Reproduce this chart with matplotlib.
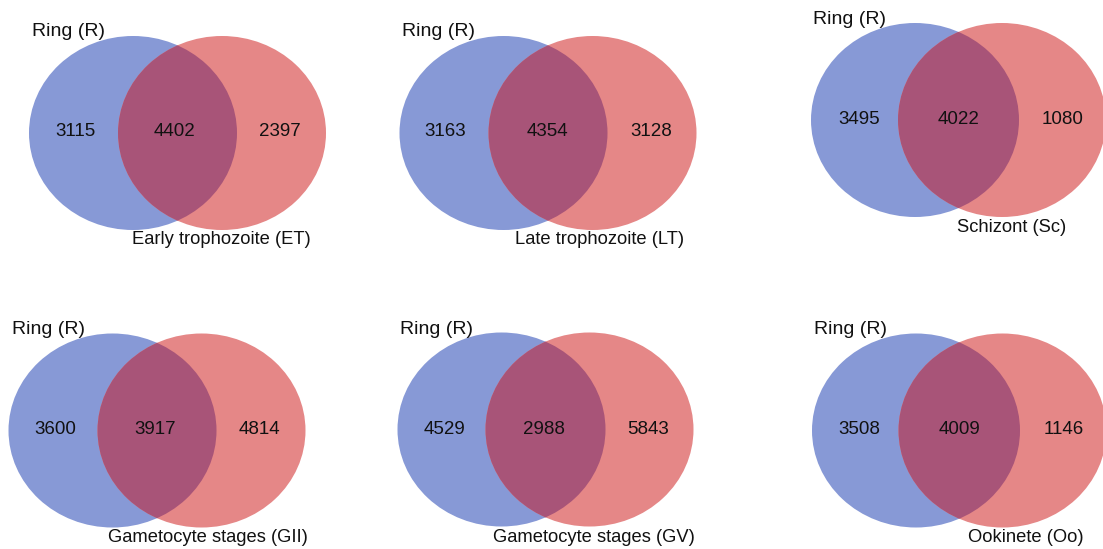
import matplotlib
matplotlib.use("Agg")
import matplotlib.pyplot as plt
from matplotlib.patches import Ellipse

plt.rcParams['font.family'] = ['Liberation Sans', 'DejaVu Sans']

# ---- data ----
set_a_label = "Ring (R)"
stage_labels = ["Early trophozoite (ET)", "Late trophozoite (LT)", "Schizont (Sc)",
                "Gametocyte stages (GII)", "Gametocyte stages (GV)", "Ookinete (Oo)"]
only_ring = [3115, 3163, 3495, 3600, 4529, 3508]
shared = [4402, 4354, 4022, 3917, 2988, 4009]
only_stage = [2397, 3128, 1080, 4814, 5843, 1146]

# ---- layout (pixels) ----
blue_cx = [133, 503.5, 915, 112.5, 501.5, 916]
red_cx = [222, 592.5, 1002, 201.5, 589.5, 1002.5]
circ_cy = [133, 133, 120, 430.5, 429.5, 430.5]
ell_w = 208
ell_h = 194
num_x = [(75, 175, 280), (445.5, 547, 651), (859, 959, 1063),
         (55.5, 155, 259), (444.7, 544, 648), (859, 959.7, 1064)]
num_y = [132, 132, 119, 429, 430, 430]
ring_xy = [(32, 32), (402, 32), (813, 20), (12, 330), (400, 330), (814, 330)]
stage_xy = [(132, 240), (515, 240), (957, 228), (108, 538), (493, 537), (968, 537)]

BLUE = '#8799d6'
RED = '#e58787'
OVER = '#a85478'
TXT = '#111111'

W, H = 1103, 549
fig = plt.figure(figsize=(W / 100, H / 100), dpi=100)
ax = fig.add_axes([0, 0, 1, 1])
ax.set_xlim(0, W)
ax.set_ylim(H, 0)
ax.axis('off')

for i in range(6):
    b = Ellipse((blue_cx[i], circ_cy[i]), ell_w, ell_h, facecolor=BLUE, edgecolor='none', zorder=1)
    r = Ellipse((red_cx[i], circ_cy[i]), ell_w, ell_h, facecolor=RED, edgecolor='none', zorder=1)
    ax.add_patch(b)
    ax.add_patch(r)
    o = Ellipse((blue_cx[i], circ_cy[i]), ell_w, ell_h, facecolor=OVER, edgecolor='none', zorder=2)
    ax.add_patch(o)
    clip = Ellipse((red_cx[i], circ_cy[i]), ell_w, ell_h, transform=ax.transData)
    o.set_clip_path(clip)
    for x, v in zip(num_x[i], (only_ring[i], shared[i], only_stage[i])):
        ax.text(x, num_y[i], str(v), ha='center', va='center', fontsize=13.5, color=TXT, zorder=3)
    ax.text(ring_xy[i][0], ring_xy[i][1], set_a_label, ha='left', va='center', fontsize=14, color=TXT, zorder=3)
    ax.text(stage_xy[i][0], stage_xy[i][1], stage_labels[i], ha='left', va='center', fontsize=13.2, color=TXT, zorder=3)

fig.savefig('out.png', dpi=100)
